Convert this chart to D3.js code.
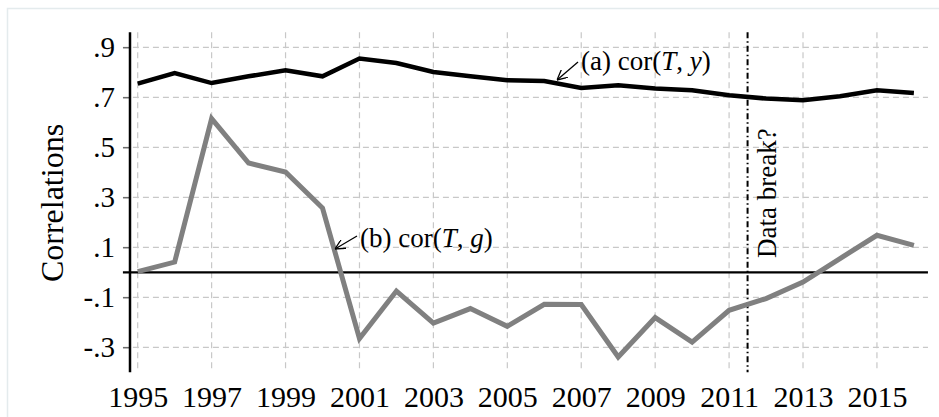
<!DOCTYPE html>
<html>
<head>
<meta charset="utf-8">
<script src="https://d3js.org/d3.v7.min.js"></script>
<style>
  body { margin: 0; background: #fff; }
  svg { display: block; font-family: 'Liberation Serif', 'Times New Roman', serif; }
</style>
</head>
<body>
<svg width=939 height=417 id='chart'></svg>
<script>

// Years and the two correlation series
var years = d3.range(1995, 2017);
var corTy = [0.755, 0.797, 0.757, 0.784, 0.808, 0.784, 0.855, 0.837, 0.801, 0.784, 0.768,
             0.765, 0.737, 0.748, 0.735, 0.728, 0.708, 0.695, 0.688, 0.704, 0.728, 0.717];
var corTg = [0.003, 0.041, 0.615, 0.437, 0.401, 0.257, -0.265, -0.075, -0.203, -0.145, -0.216,
             -0.128, -0.129, -0.339, -0.181, -0.279, -0.152, -0.105, -0.039, 0.055, 0.148, 0.108];
var yTicks = [-0.3, -0.1, 0.1, 0.3, 0.5, 0.7, 0.9];
var xTicks = [1995, 1997, 1999, 2001, 2003, 2005, 2007, 2009, 2011, 2013, 2015];
var breakYear = 2011.5;

var svg = d3.select('#chart');

// light frame around the figure
svg.append('rect')
  .attr('x', 7.5).attr('y', 8.5)
  .attr('width', 960).attr('height', 430)
  .attr('fill', 'none')
  .attr('stroke', '#e4ebed')
  .attr('stroke-width', 1.5);

var x = d3.scaleLinear().domain([1995, 2016]).range([137.7, 913.9]);
var y = d3.scaleLinear().domain([-0.3, 0.9]).range([347.3, 47.3]);

var xLeft = x(1994.6), xRight = x(2016.38);
var yTop = y(0.96), yBottom = y(-0.4);

// dashed grid
svg.append('g')
  .selectAll('line')
  .data(yTicks)
  .enter().append('line')
  .attr('x1', xLeft).attr('x2', xRight)
  .attr('y1', function(d) { return y(d); })
  .attr('y2', function(d) { return y(d); })
  .attr('stroke', '#c8c8c8')
  .attr('stroke-width', 1.2)
  .attr('stroke-dasharray', '6,4');

svg.append('g')
  .selectAll('line')
  .data(xTicks)
  .enter().append('line')
  .attr('x1', function(d) { return x(d); })
  .attr('x2', function(d) { return x(d); })
  .attr('y1', yTop).attr('y2', yBottom)
  .attr('stroke', '#c8c8c8')
  .attr('stroke-width', 1.2)
  .attr('stroke-dasharray', '6,4');

// zero line
svg.append('line')
  .attr('x1', xLeft).attr('x2', xRight)
  .attr('y1', y(0)).attr('y2', y(0))
  .attr('stroke', '#000')
  .attr('stroke-width', 2.2);

// y axis
var yAxis = d3.axisLeft(y)
  .tickValues(yTicks)
  .tickSize(7)
  .tickPadding(8)
  .tickFormat(function(d) { return d3.format('.1f')(d).replace('0.', '.').replace('−', '-'); });

var gy = svg.append('g')
  .attr('transform', 'translate(' + x(1995) + ',0)')
  .attr('transform', 'translate(130,0)')
  .call(yAxis);
gy.select('.domain').remove();
gy.selectAll('.tick line').attr('stroke', '#555').attr('stroke-width', 1.2);
gy.selectAll('text')
  .attr('font-family', 'Liberation Serif')
  .attr('font-size', 29)
  .attr('fill', '#000');
gy.append('line')
  .attr('x1', 0).attr('x2', 0)
  .attr('y1', yTop).attr('y2', yBottom)
  .attr('stroke', '#000')
  .attr('stroke-width', 2.5);

// x axis labels (no axis line)
var gx = svg.append('g')
  .attr('transform', 'translate(0,' + yBottom + ')')
  .call(d3.axisBottom(x).tickValues(xTicks).tickSize(0).tickFormat(d3.format('d')));
gx.select('.domain').remove();
gx.selectAll('text')
  .attr('y', 35).attr('dy', 0)
  .attr('font-family', 'Liberation Serif')
  .attr('font-size', 30)
  .attr('fill', '#000');

// y title
svg.append('text')
  .attr('transform', 'translate(63,203) rotate(-90)')
  .attr('text-anchor', 'middle')
  .attr('font-size', 32)
  .text('Correlations');

// data break marker
svg.append('line')
  .attr('x1', x(breakYear)).attr('x2', x(breakYear))
  .attr('y1', yTop).attr('y2', yBottom)
  .attr('stroke', '#000')
  .attr('stroke-width', 2)
  .attr('stroke-dasharray', '6,3,1.5,3');

svg.append('text')
  .attr('transform', 'translate(' + (x(breakYear) + 28) + ',258) rotate(-90)')
  .attr('font-size', 27)
  .text('Data break?');

// series
var line = d3.line()
  .x(function(d, i) { return x(years[i]); })
  .y(function(d) { return y(d); });

svg.append('path')
  .attr('d', line(corTg))
  .attr('fill', 'none')
  .attr('stroke', '#808080')
  .attr('stroke-width', 5)
  .attr('stroke-linejoin', 'miter');

svg.append('path')
  .attr('d', line(corTy))
  .attr('fill', 'none')
  .attr('stroke', '#000')
  .attr('stroke-width', 4.5);

// arrow marker
svg.append('defs').append('marker')
  .attr('id', 'arrow')
  .attr('viewBox', '0 0 10 10')
  .attr('refX', 10).attr('refY', 5)
  .attr('markerWidth', 10).attr('markerHeight', 10)
  .attr('markerUnits', 'userSpaceOnUse')
  .attr('orient', 'auto')
  .append('path')
  .attr('d', 'M0,0 L10,5 L0,10')
  .attr('fill', 'none')
  .attr('stroke', '#000')
  .attr('stroke-width', 1.3);

// annotations
var notes = [
  {lab: '(a)', fn: 'cor(', a: 'T', b: 'y', tx: 581, ty: 70, x0: 578, y0: 62, x1: 557, y1: 80},
  {lab: '(b)', fn: 'cor(', a: 'T', b: 'g', tx: 360, ty: 247, x0: 357, y0: 236, x1: 335, y1: 249}
];

notes.forEach(function(n) {
  svg.append('line')
    .attr('x1', n.x0).attr('y1', n.y0)
    .attr('x2', n.x1).attr('y2', n.y1)
    .attr('stroke', '#000')
    .attr('stroke-width', 1.3)
    .attr('marker-end', 'url(#arrow)');
  var t = svg.append('text')
    .attr('x', n.tx).attr('y', n.ty)
    .attr('font-size', 27);
  t.append('tspan').text(n.lab + ' ' + n.fn);
  t.append('tspan').attr('font-style', 'italic').text(n.a);
  t.append('tspan').text(', ');
  t.append('tspan').attr('font-style', 'italic').text(n.b);
  t.append('tspan').text(')');
});

</script>
</body>
</html>
